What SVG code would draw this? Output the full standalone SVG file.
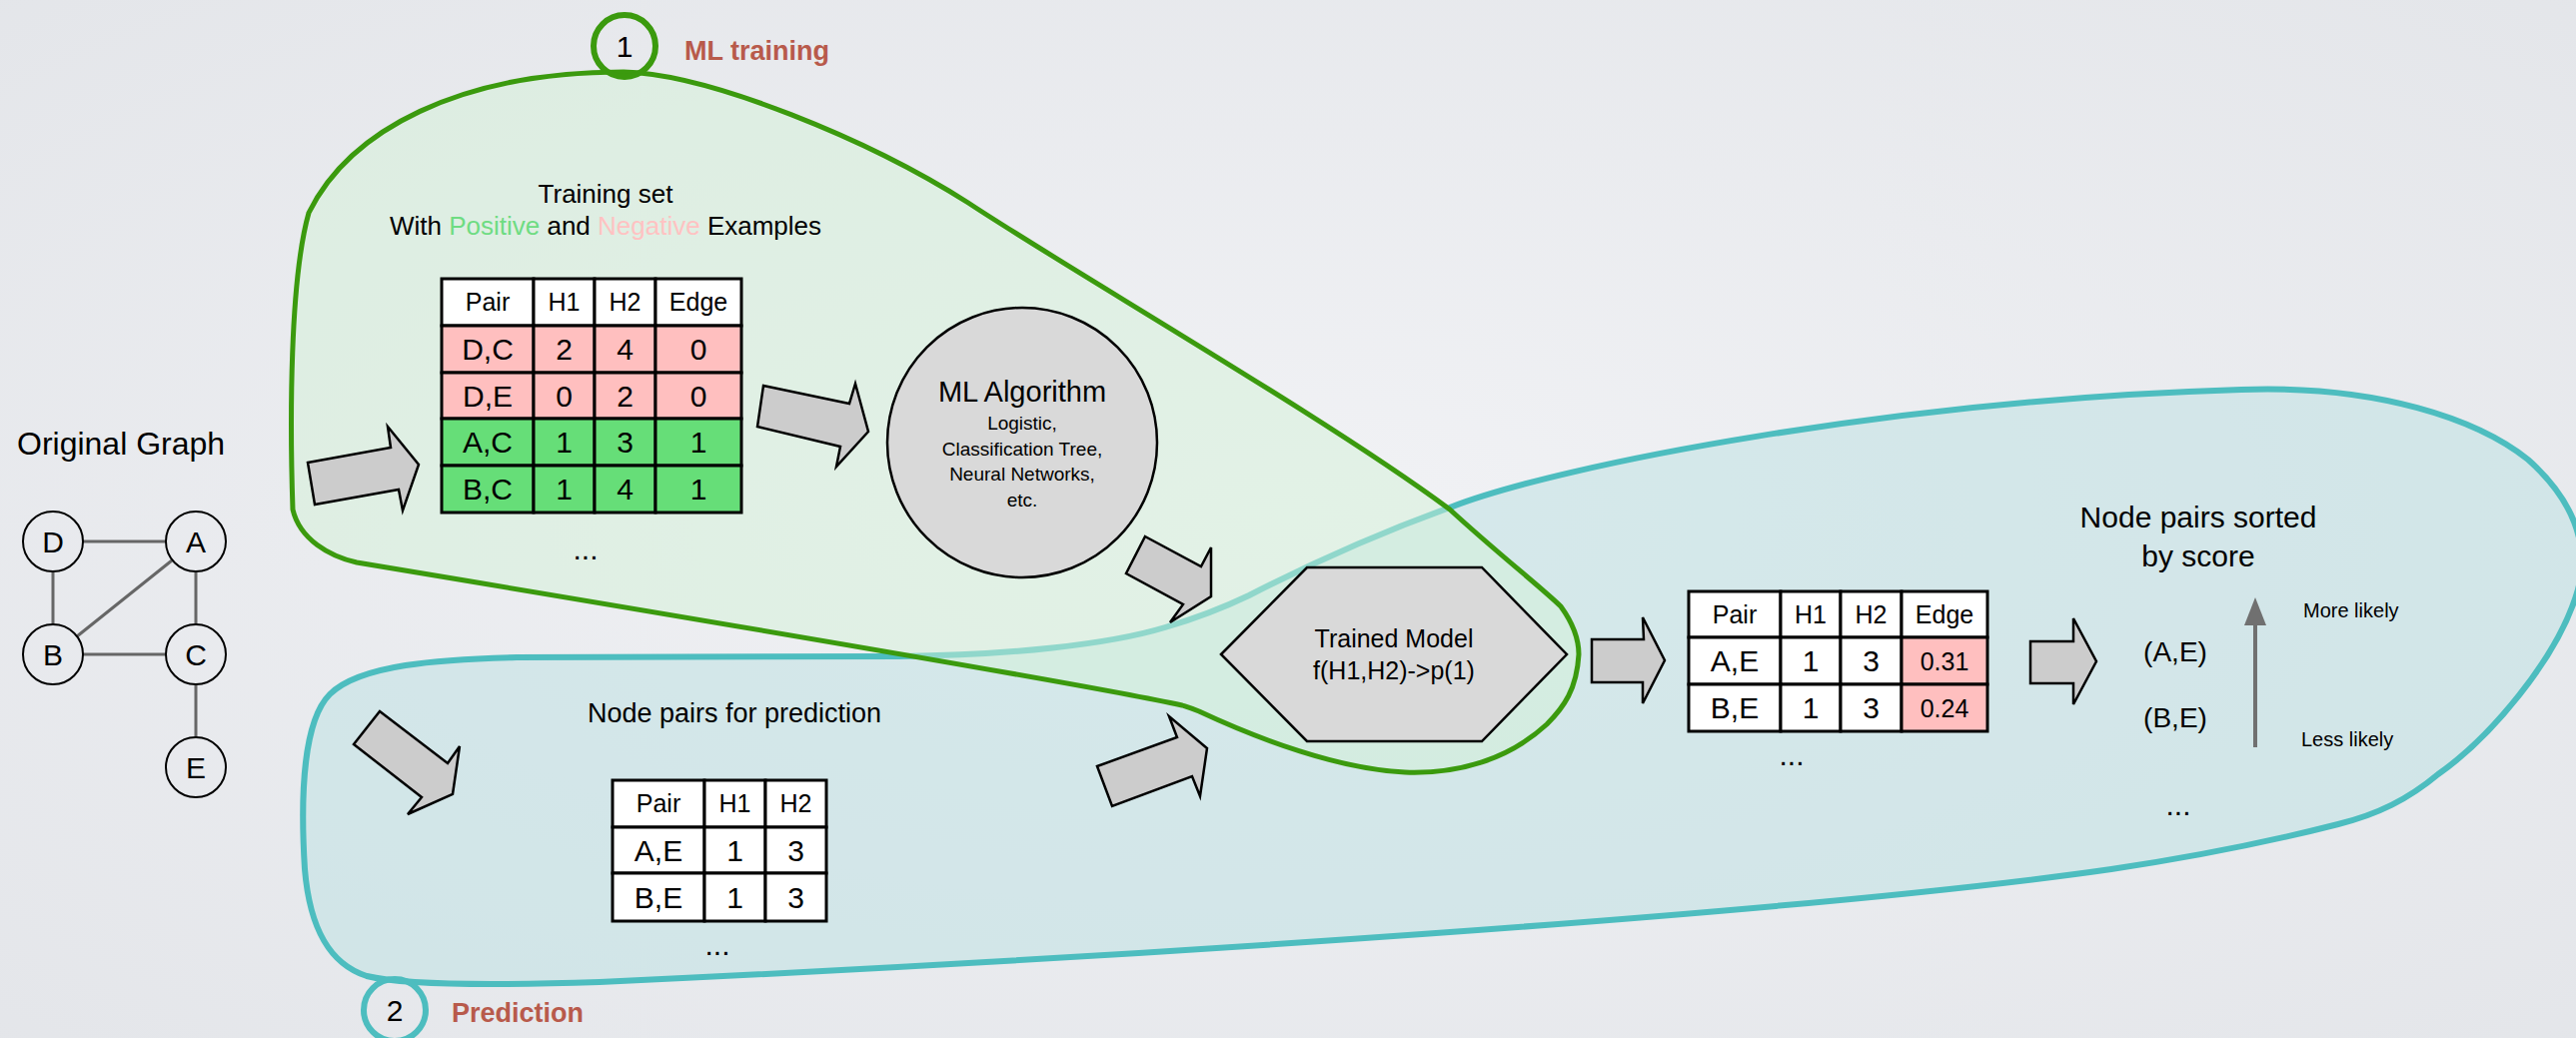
<svg xmlns="http://www.w3.org/2000/svg" width="2578" height="1039" viewBox="0 0 2578 1039">
<style>
text{font-family:"Liberation Sans",Arial,Helvetica,sans-serif;fill:#000}
.c{text-anchor:middle}
.arw{fill:#cccccc;stroke:#000;stroke-width:2.5;stroke-linejoin:miter}
.cell{stroke:#000;stroke-width:3}
.wh{fill:#ffffff}
.pk{fill:#ffbfbf}
.gr{fill:#66de78}
.hd{font-size:25px}
.dt{font-size:30px}
.gn{fill:none;stroke:#000;stroke-width:2}
.ge{stroke:#666;stroke-width:3}
.lbl{font-size:27px;font-weight:bold;fill:#b85a4b}
.shape{fill:#d9d9d9;stroke:#000;stroke-width:2.5}
</style>
<defs>
<radialGradient id="bg" cx="0.5" cy="0.5" r="0.75">
<stop offset="0" stop-color="#f1f2f5"/>
<stop offset="1" stop-color="#e3e5e9"/>
</radialGradient>
</defs>
<rect width="2578" height="1039" fill="url(#bg)"/>

<g id="prediction-region">
<path d="M 517,658 L 900,657 C 1010,656 1110,645 1166,628 C 1200,618 1225,608 1250,596 C 1330,555 1390,530 1451,508 C 1560,465 1900,400 2243,390 C 2380,385 2480,420 2530,460 C 2575,500 2592,545 2580,590 C 2560,660 2490,740 2440,775 C 2410,800 2380,815 2340,825 C 2250,848 2180,860 2113,870 C 1800,915 1100,960 600,983 C 480,987 400,985 367,977 C 330,965 310,930 305,870 C 300,790 305,720 330,695 C 360,665 440,660 517,658 Z" fill="#c3e2e4" fill-opacity="0.6" stroke="#4dbdbf" stroke-width="6"/>
</g>
<g id="training-region">
<path d="M 624,72 C 710,74 870,140 969,203 C 1070,270 1330,420 1451,510 C 1500,555 1545,590 1562,607 C 1575,625 1580,640 1580,655 C 1578,690 1565,708 1548,725 C 1510,760 1460,775 1406,773 C 1340,770 1260,740 1200,712 C 1190,708 1186,707 1183,706 C 1100,688 700,620 357,563 C 330,557 300,540 293,510 C 290,420 290,280 309,213 C 350,130 460,72 624,72 Z" fill="#d3f2d7" fill-opacity="0.5" stroke="#3b9a0e" stroke-width="5"/>
</g>

<g id="step1">
<circle cx="625" cy="46" r="31" fill="none" stroke="#3b9a0e" stroke-width="6"/>
<text class="c" x="625" y="57" font-size="30">1</text>
<text class="lbl" x="685" y="60">ML training</text>
</g>
<g id="step2">
<circle cx="395" cy="1011" r="31" fill="none" stroke="#4dbdbf" stroke-width="6"/>
<text class="c" x="395" y="1022" font-size="30">2</text>
<text class="lbl" x="452" y="1023">Prediction</text>
</g>

<g id="original-graph">
<text x="17" y="455" font-size="32">Original Graph</text>
<line class="ge" x1="83" y1="542" x2="166" y2="542" stroke-width="5"/>
<line class="ge" x1="83" y1="655" x2="166" y2="655" stroke-width="5"/>
<line class="ge" x1="53" y1="572" x2="53" y2="625"/>
<line class="ge" x1="196" y1="572" x2="196" y2="625"/>
<line class="ge" x1="77" y1="637" x2="172" y2="561"/>
<line class="ge" x1="196" y1="685" x2="196" y2="738"/>
<g id="node-D"><circle class="gn" cx="53" cy="542" r="30"/><text class="c dt" x="53" y="553">D</text></g>
<g id="node-A"><circle class="gn" cx="196" cy="542" r="30"/><text class="c dt" x="196" y="553">A</text></g>
<g id="node-B"><circle class="gn" cx="53" cy="655" r="30"/><text class="c dt" x="53" y="666">B</text></g>
<g id="node-C"><circle class="gn" cx="196" cy="655" r="30"/><text class="c dt" x="196" y="666">C</text></g>
<g id="node-E"><circle class="gn" cx="196" cy="768" r="30"/><text class="c dt" x="196" y="779">E</text></g>
</g>

<g id="training-set">
<text class="c" x="606" y="203" font-size="26">Training set</text>
<text class="c" x="606" y="235" font-size="26">With <tspan fill="#6edc82">Positive</tspan> and <tspan fill="#ffc2c2">Negative</tspan> Examples</text>
<rect class="cell wh" x="442" y="279" width="92" height="47"/>
<rect class="cell wh" x="534" y="279" width="61" height="47"/>
<rect class="cell wh" x="595" y="279" width="61" height="47"/>
<rect class="cell wh" x="656" y="279" width="86" height="47"/>
<rect class="cell pk" x="442" y="326" width="92" height="47"/>
<rect class="cell pk" x="534" y="326" width="61" height="47"/>
<rect class="cell pk" x="595" y="326" width="61" height="47"/>
<rect class="cell pk" x="656" y="326" width="86" height="47"/>
<rect class="cell pk" x="442" y="373" width="92" height="46"/>
<rect class="cell pk" x="534" y="373" width="61" height="46"/>
<rect class="cell pk" x="595" y="373" width="61" height="46"/>
<rect class="cell pk" x="656" y="373" width="86" height="46"/>
<rect class="cell gr" x="442" y="419" width="92" height="47"/>
<rect class="cell gr" x="534" y="419" width="61" height="47"/>
<rect class="cell gr" x="595" y="419" width="61" height="47"/>
<rect class="cell gr" x="656" y="419" width="86" height="47"/>
<rect class="cell gr" x="442" y="466" width="92" height="47"/>
<rect class="cell gr" x="534" y="466" width="61" height="47"/>
<rect class="cell gr" x="595" y="466" width="61" height="47"/>
<rect class="cell gr" x="656" y="466" width="86" height="47"/>
<text class="c hd" x="488" y="311">Pair</text><text class="c hd" x="564.5" y="311">H1</text><text class="c hd" x="625.5" y="311">H2</text><text class="c hd" x="699" y="311">Edge</text>
<text class="c dt" x="488" y="360">D,C</text><text class="c dt" x="564.5" y="360">2</text><text class="c dt" x="625.5" y="360">4</text><text class="c dt" x="699" y="360">0</text>
<text class="c dt" x="488" y="407">D,E</text><text class="c dt" x="564.5" y="407">0</text><text class="c dt" x="625.5" y="407">2</text><text class="c dt" x="699" y="407">0</text>
<text class="c dt" x="488" y="453">A,C</text><text class="c dt" x="564.5" y="453">1</text><text class="c dt" x="625.5" y="453">3</text><text class="c dt" x="699" y="453">1</text>
<text class="c dt" x="488" y="500">B,C</text><text class="c dt" x="564.5" y="500">1</text><text class="c dt" x="625.5" y="500">4</text><text class="c dt" x="699" y="500">1</text>
<text class="c dt" x="586" y="560">...</text>
</g>

<g id="ml-algorithm">
<circle class="shape" cx="1023" cy="443" r="135"/>
<text class="c" x="1023" y="402" font-size="29">ML Algorithm</text>
<text class="c" x="1023" y="430" font-size="19">Logistic,</text>
<text class="c" x="1023" y="456" font-size="19">Classification Tree,</text>
<text class="c" x="1023" y="481" font-size="19">Neural Networks,</text>
<text class="c" x="1023" y="507" font-size="19">etc.</text>
</g>

<g id="trained-model">
<polygon class="shape" points="1222,655 1308,568 1483,568 1568,655 1483,742 1308,742"/>
<text class="c" x="1395" y="648" font-size="25">Trained Model</text>
<text class="c" x="1395" y="680" font-size="25">f(H1,H2)-&gt;p(1)</text>
</g>

<g id="prediction-pairs">
<text class="c" x="735" y="723" font-size="27">Node pairs for prediction</text>
<rect class="cell wh" x="613" y="781" width="92" height="47"/>
<rect class="cell wh" x="705" y="781" width="61" height="47"/>
<rect class="cell wh" x="766" y="781" width="61" height="47"/>
<rect class="cell wh" x="613" y="828" width="92" height="46"/>
<rect class="cell wh" x="705" y="828" width="61" height="46"/>
<rect class="cell wh" x="766" y="828" width="61" height="46"/>
<rect class="cell wh" x="613" y="874" width="92" height="48"/>
<rect class="cell wh" x="705" y="874" width="61" height="48"/>
<rect class="cell wh" x="766" y="874" width="61" height="48"/>
<text class="c hd" x="659" y="813">Pair</text><text class="c hd" x="735.5" y="813">H1</text><text class="c hd" x="796.5" y="813">H2</text>
<text class="c dt" x="659" y="862">A,E</text><text class="c dt" x="735.5" y="862">1</text><text class="c dt" x="796.5" y="862">3</text>
<text class="c dt" x="659" y="909">B,E</text><text class="c dt" x="735.5" y="909">1</text><text class="c dt" x="796.5" y="909">3</text>
<text class="c dt" x="718" y="956">...</text>
</g>

<g id="scored-pairs">
<rect class="cell wh" x="1690" y="592" width="92" height="46"/>
<rect class="cell wh" x="1782" y="592" width="60" height="46"/>
<rect class="cell wh" x="1842" y="592" width="61" height="46"/>
<rect class="cell wh" x="1903" y="592" width="86" height="46"/>
<rect class="cell wh" x="1690" y="638" width="92" height="47"/>
<rect class="cell wh" x="1782" y="638" width="60" height="47"/>
<rect class="cell wh" x="1842" y="638" width="61" height="47"/>
<rect class="cell pk" x="1903" y="638" width="86" height="47"/>
<rect class="cell wh" x="1690" y="685" width="92" height="47"/>
<rect class="cell wh" x="1782" y="685" width="60" height="47"/>
<rect class="cell wh" x="1842" y="685" width="61" height="47"/>
<rect class="cell pk" x="1903" y="685" width="86" height="47"/>
<text class="c hd" x="1736" y="624">Pair</text><text class="c hd" x="1812" y="624">H1</text><text class="c hd" x="1872.5" y="624">H2</text><text class="c hd" x="1946" y="624">Edge</text>
<text class="c dt" x="1736" y="672">A,E</text><text class="c dt" x="1812" y="672">1</text><text class="c dt" x="1872.5" y="672">3</text><text class="c hd" x="1946" y="671">0.31</text>
<text class="c dt" x="1736" y="719">B,E</text><text class="c dt" x="1812" y="719">1</text><text class="c dt" x="1872.5" y="719">3</text><text class="c hd" x="1946" y="718">0.24</text>
<text class="c dt" x="1793" y="766">...</text>
</g>

<g id="sorted-pairs">
<text class="c" x="2200" y="528" font-size="30">Node pairs sorted</text>
<text class="c" x="2200" y="567" font-size="30">by score</text>
<text class="c" x="2177" y="662" font-size="28">(A,E)</text>
<text class="c" x="2177" y="728" font-size="28">(B,E)</text>
<text class="c dt" x="2180" y="816">...</text>
<line x1="2257" y1="748" x2="2257" y2="622" stroke="#707070" stroke-width="4"/>
<polygon points="2257,598 2268,626 2246,626" fill="#707070"/>
<text x="2305" y="618" font-size="20">More likely</text>
<text x="2303" y="747" font-size="20">Less likely</text>
</g>

<g id="connectors">
<polygon class="arw" points="308,463 391,448 388,427 419,465 403,511 399,490 315,505"/>
<polygon class="arw" points="764,386 850,404 856,384 869,432 837,467 841,447 758,427"/>
<polygon class="arw" points="1146,537 1202,567 1212,548 1212,597 1171,623 1184,605 1127,574"/>
<polygon class="arw" points="380,712 448,764 460,747 453,795 408,815 422,798 354,745"/>
<polygon class="arw" points="1098,767 1178,738 1170,717 1208,749 1201,797 1193,777 1113,807"/>
<polygon class="arw" points="1593,640 1645,640 1644,618 1666,661 1644,704 1644,683 1593,683"/>
<polygon class="arw" points="2032,642 2075,642 2075,619 2098,662 2075,705 2075,684 2032,684"/>
</g>
</svg>
